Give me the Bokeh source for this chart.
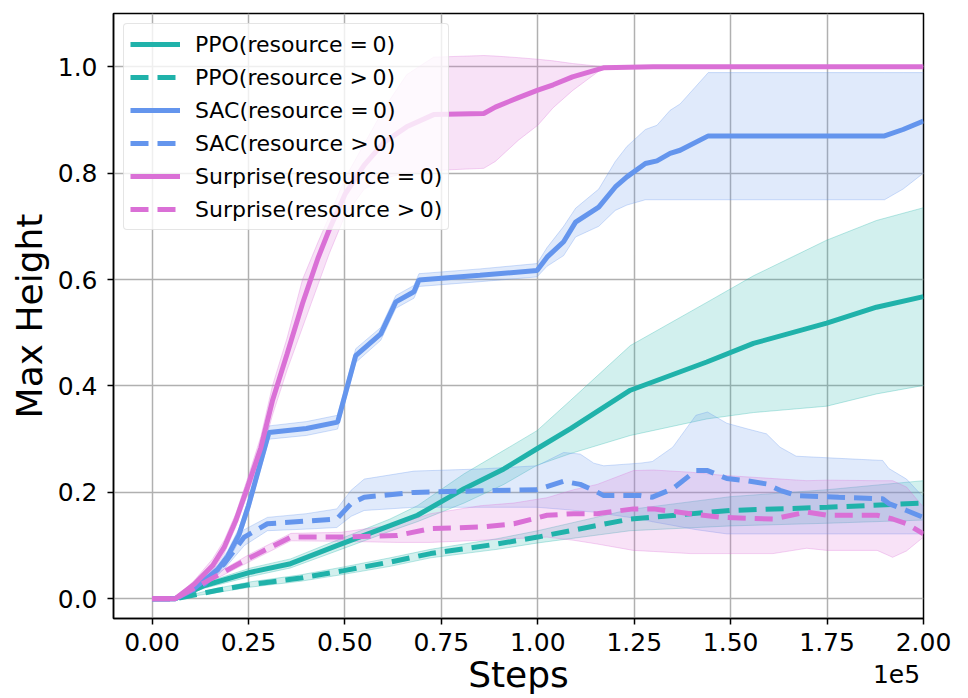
from bokeh.plotting import figure
from bokeh.models import Range1d, FixedTicker, NumeralTickFormatter, LinearAxis
from bokeh.embed import file_html
from bokeh.resources import INLINE

# ---------------- data (x in units of 1e5 steps) ----------------
x_ticks = [0.0, 0.25, 0.5, 0.75, 1.0, 1.25, 1.5, 1.75, 2.0]
y_ticks = [0.0, 0.2, 0.4, 0.6, 0.8, 1.0]
offset_text = "1e5"

ppo0_x = [0, 0.06, 0.136, 0.256, 0.359, 0.479, 0.617, 0.688, 0.809, 0.912, 0.998, 1.085, 1.24, 1.438, 1.559, 1.749, 1.878, 2.0]
ppo0_y = [0, 0, 0.025, 0.05, 0.066, 0.1, 0.1375, 0.157, 0.207, 0.244, 0.282, 0.32, 0.392, 0.445, 0.48, 0.518, 0.548, 0.568]
ppo0_hi = [0, 0, 0.03, 0.058, 0.075, 0.11, 0.15, 0.175, 0.235, 0.279, 0.316, 0.373, 0.476, 0.557, 0.607, 0.674, 0.711, 0.735]
ppo0_lo = [0, 0, 0.02, 0.042, 0.058, 0.09, 0.127, 0.145, 0.18, 0.215, 0.251, 0.273, 0.307, 0.338, 0.35, 0.362, 0.385, 0.401]

ppo1_x = [0, 0.06, 0.17, 0.256, 0.385, 0.497, 0.617, 0.722, 0.895, 1.0, 1.24, 1.5, 1.75, 2.0]
ppo1_y = [0, 0, 0.016, 0.027, 0.039, 0.053, 0.069, 0.085, 0.103, 0.116, 0.150, 0.166, 0.172, 0.18]
ppo1_hi = [0, 0, 0.02, 0.032, 0.045, 0.06, 0.077, 0.093, 0.113, 0.128, 0.168, 0.192, 0.205, 0.222]
ppo1_lo = [0, 0, 0.012, 0.022, 0.033, 0.046, 0.061, 0.077, 0.093, 0.105, 0.128, 0.137, 0.142, 0.148]

sac0_x = [0, 0.06, 0.11, 0.17, 0.196, 0.225, 0.25, 0.275, 0.303, 0.40, 0.481, 0.528, 0.593, 0.632, 0.679, 0.692, 0.85, 0.998,
          1.024, 1.067, 1.098, 1.158, 1.201, 1.231, 1.279, 1.309, 1.343, 1.369, 1.442, 1.6, 1.75, 1.899, 1.947, 2.0]
sac0_y = [0, 0, 0.02, 0.055, 0.08, 0.12, 0.175, 0.24, 0.3125, 0.32, 0.332, 0.457, 0.498, 0.558, 0.577, 0.599, 0.608, 0.617,
          0.642, 0.671, 0.708, 0.736, 0.774, 0.793, 0.818, 0.823, 0.837, 0.843, 0.87, 0.87, 0.87, 0.87, 0.882, 0.898]
sac0_hi = [0, 0, 0.026, 0.063, 0.09, 0.132, 0.188, 0.253, 0.325, 0.333, 0.345, 0.47, 0.51, 0.57, 0.589, 0.611, 0.62, 0.63,
           0.66, 0.70, 0.734, 0.77, 0.822, 0.85, 0.882, 0.89, 0.918, 0.93, 0.989, 0.989, 0.989, 0.989, 0.989, 0.989]
sac0_lo = [0, 0, 0.014, 0.047, 0.07, 0.108, 0.162, 0.227, 0.30, 0.307, 0.319, 0.444, 0.486, 0.546, 0.565, 0.587, 0.596, 0.605,
           0.625, 0.645, 0.68, 0.70, 0.73, 0.74, 0.75, 0.75, 0.75, 0.75, 0.75, 0.75, 0.75, 0.75, 0.77, 0.80]

sac1_x = [0, 0.06, 0.136, 0.187, 0.239, 0.299, 0.40, 0.479, 0.516, 0.55, 0.679, 0.85, 0.998, 1.067, 1.11, 1.145, 1.171, 1.266,
          1.297, 1.35, 1.41, 1.44, 1.49, 1.54, 1.593, 1.628, 1.67, 1.78, 1.894, 1.91, 1.956, 2.0]
sac1_y = [0, 0, 0.028, 0.066, 0.116, 0.141, 0.146, 0.15, 0.179, 0.191, 0.20, 0.203, 0.205, 0.221, 0.215, 0.204, 0.194, 0.194,
          0.191, 0.207, 0.241, 0.241, 0.226, 0.222, 0.216, 0.204, 0.194, 0.191, 0.188, 0.179, 0.166, 0.153]
sac1_hi = [0, 0, 0.033, 0.076, 0.13, 0.153, 0.16, 0.169, 0.204, 0.225, 0.24, 0.244, 0.25, 0.275, 0.272, 0.255, 0.25, 0.255,
           0.258, 0.285, 0.345, 0.351, 0.33, 0.32, 0.31, 0.285, 0.268, 0.264, 0.26, 0.245, 0.225, 0.191]
sac1_lo = [0, 0, 0.022, 0.056, 0.1, 0.128, 0.131, 0.134, 0.155, 0.166, 0.172, 0.172, 0.172, 0.168, 0.165, 0.163, 0.16, 0.15,
           0.145, 0.138, 0.13, 0.127, 0.122, 0.122, 0.122, 0.122, 0.122, 0.122, 0.122, 0.122, 0.122, 0.122]

sur0_x = [0, 0.06, 0.11, 0.157, 0.187, 0.217, 0.247, 0.282, 0.312, 0.35, 0.39, 0.43, 0.46, 0.50, 0.55, 0.60, 0.66, 0.73, 0.86,
          0.89, 0.95, 1.0, 1.04, 1.09, 1.17, 1.3, 1.5, 1.75, 2.0]
sur0_y = [0, 0, 0.028, 0.0625, 0.097, 0.147, 0.209, 0.284, 0.372, 0.46, 0.555, 0.64, 0.695, 0.76, 0.815, 0.857, 0.887, 0.91,
          0.912, 0.924, 0.942, 0.956, 0.966, 0.981, 0.998, 1.0, 1.0, 1.0, 1.0]
sur0_hi = [0, 0, 0.035, 0.075, 0.11, 0.16, 0.225, 0.305, 0.40, 0.49, 0.60, 0.67, 0.72, 0.79, 0.855, 0.92, 0.985, 1.018,
           1.021, 1.02, 1.017, 1.014, 1.011, 1.006, 1.0, 1.0, 1.0, 1.0, 1.0]
sur0_lo = [0, 0, 0.022, 0.052, 0.085, 0.135, 0.195, 0.265, 0.345, 0.43, 0.51, 0.59, 0.65, 0.72, 0.77, 0.79, 0.80, 0.805,
           0.809, 0.822, 0.862, 0.89, 0.923, 0.955, 0.998, 1.0, 1.0, 1.0, 1.0]

sur1_x = [0, 0.06, 0.153, 0.256, 0.36, 0.49, 0.636, 0.722, 0.852, 0.938, 1.024, 1.093, 1.154, 1.248, 1.30, 1.395, 1.48, 1.61,
          1.697, 1.75, 1.88, 1.92, 1.956, 2.0]
sur1_y = [0, 0, 0.0375, 0.078, 0.116, 0.116, 0.119, 0.132, 0.135, 0.141, 0.157, 0.16, 0.16, 0.169, 0.169, 0.16, 0.153, 0.150,
          0.163, 0.157, 0.157, 0.15, 0.141, 0.122]
sur1_hi = [0, 0, 0.042, 0.085, 0.123, 0.125, 0.14, 0.16, 0.175, 0.18, 0.19, 0.205, 0.215, 0.241, 0.242, 0.238, 0.232, 0.226,
           0.222, 0.223, 0.222, 0.222, 0.21, 0.172]
sur1_lo = [0, 0, 0.033, 0.071, 0.109, 0.108, 0.106, 0.106, 0.11, 0.113, 0.116, 0.11, 0.103, 0.091, 0.089, 0.085, 0.085, 0.085,
           0.095, 0.091, 0.091, 0.078, 0.09, 0.116]

labels = ["PPO(resource =\u20090)", "PPO(resource >\u20090)",
          "SAC(resource =\u20090)", "SAC(resource >\u20090)",
          "Surprise(resource =\u20090)", "Surprise(resource >\u20090)"]

TEAL = "#20b2aa"
BLUE = "#6495ed"
ORCHID = "#da70d6"

series = [
    (labels[0], ppo0_x, ppo0_y, ppo0_lo, ppo0_hi, TEAL, "solid"),
    (labels[1], ppo1_x, ppo1_y, ppo1_lo, ppo1_hi, TEAL, "18 9"),
    (labels[2], sac0_x, sac0_y, sac0_lo, sac0_hi, BLUE, "solid"),
    (labels[3], sac1_x, sac1_y, sac1_lo, sac1_hi, BLUE, "18 9"),
    (labels[4], sur0_x, sur0_y, sur0_lo, sur0_hi, ORCHID, "solid"),
    (labels[5], sur1_x, sur1_y, sur1_lo, sur1_hi, ORCHID, "18 9"),
]

FONT = "DejaVu Sans"

p = figure(width=968, height=698, output_backend="svg", toolbar_location=None,
           x_range=Range1d(-0.1, 2.0), y_range=Range1d(-0.037, 1.1),
           min_border_left=113, min_border_right=45, min_border_top=13, min_border_bottom=80)
p.background_fill_color = "white"
p.border_fill_color = "white"
p.outline_line_color = "black"
p.outline_line_width = 1.5
p.outline_line_alpha = 1.0

# bands first
for name, xs, ys, lo, hi, col, dash in series:
    p.varea(x=xs, y1=lo, y2=hi, fill_color=col, fill_alpha=0.2)
    p.line(xs, lo, line_color=col, line_alpha=0.3, line_width=1)
    p.line(xs, hi, line_color=col, line_alpha=0.3, line_width=1)

# mean lines
for name, xs, ys, lo, hi, col, dash in series:
    p.line(xs, ys, line_color=col, line_width=5, line_dash=dash, legend_label=name)


def style_axis(ax):
    ax.axis_line_color = "black"
    ax.axis_line_width = 1.5
    ax.major_tick_line_color = "black"
    ax.major_tick_line_width = 1.5
    ax.major_tick_out = 6
    ax.major_tick_in = 0
    ax.minor_tick_out = 0
    ax.minor_tick_in = 0
    ax.major_label_text_font = FONT
    ax.major_label_text_font_size = "25px"
    ax.major_label_text_color = "black"
    ax.axis_label_text_font = FONT
    ax.axis_label_text_font_size = "36px"
    ax.axis_label_text_font_style = "normal"
    ax.axis_label_text_color = "black"


style_axis(p.xaxis[0])
style_axis(p.yaxis[0])

p.xaxis.ticker = FixedTicker(ticks=x_ticks)
p.yaxis.ticker = FixedTicker(ticks=y_ticks)
p.xaxis.formatter = NumeralTickFormatter(format="0.00")
p.yaxis.formatter = NumeralTickFormatter(format="0.0")
p.yaxis.axis_label = "Max Height"
p.xaxis.major_label_standoff = 8
p.yaxis.major_label_standoff = 10
p.yaxis.axis_label_standoff = 5

# second (bare) bottom axis: carries the "1e5" offset text and the "Steps" label
offset_pos = 1.93
ax2 = LinearAxis(ticker=FixedTicker(ticks=[offset_pos]),
                 major_label_overrides={offset_pos: offset_text})
style_axis(ax2)
ax2.axis_line_color = None
ax2.major_tick_line_color = None
ax2.major_tick_out = 0
ax2.major_label_standoff = 11
ax2.axis_label = "Steps"
ax2.axis_label_standoff = -32
p.add_layout(ax2, "below")

p.grid.grid_line_color = "#b0b0b0"
p.grid.grid_line_width = 1.5
p.grid.grid_line_alpha = 1.0

# legend
lg = p.legend[0]
lg.location = "top_left"
lg.margin = 10
lg.padding = 6
lg.spacing = 5
lg.glyph_width = 50
lg.glyph_height = 28
lg.label_height = 28
lg.label_standoff = 15
lg.label_text_font = FONT
lg.label_text_font_size = "22px"
lg.label_text_color = "black"
lg.border_line_color = "#cccccc"
lg.border_line_width = 1.5
lg.background_fill_color = "white"
lg.background_fill_alpha = 0.8
if "border_radius" in lg.properties():
    lg.border_radius = 4

open("out.html", "w").write(file_html(p, INLINE))
